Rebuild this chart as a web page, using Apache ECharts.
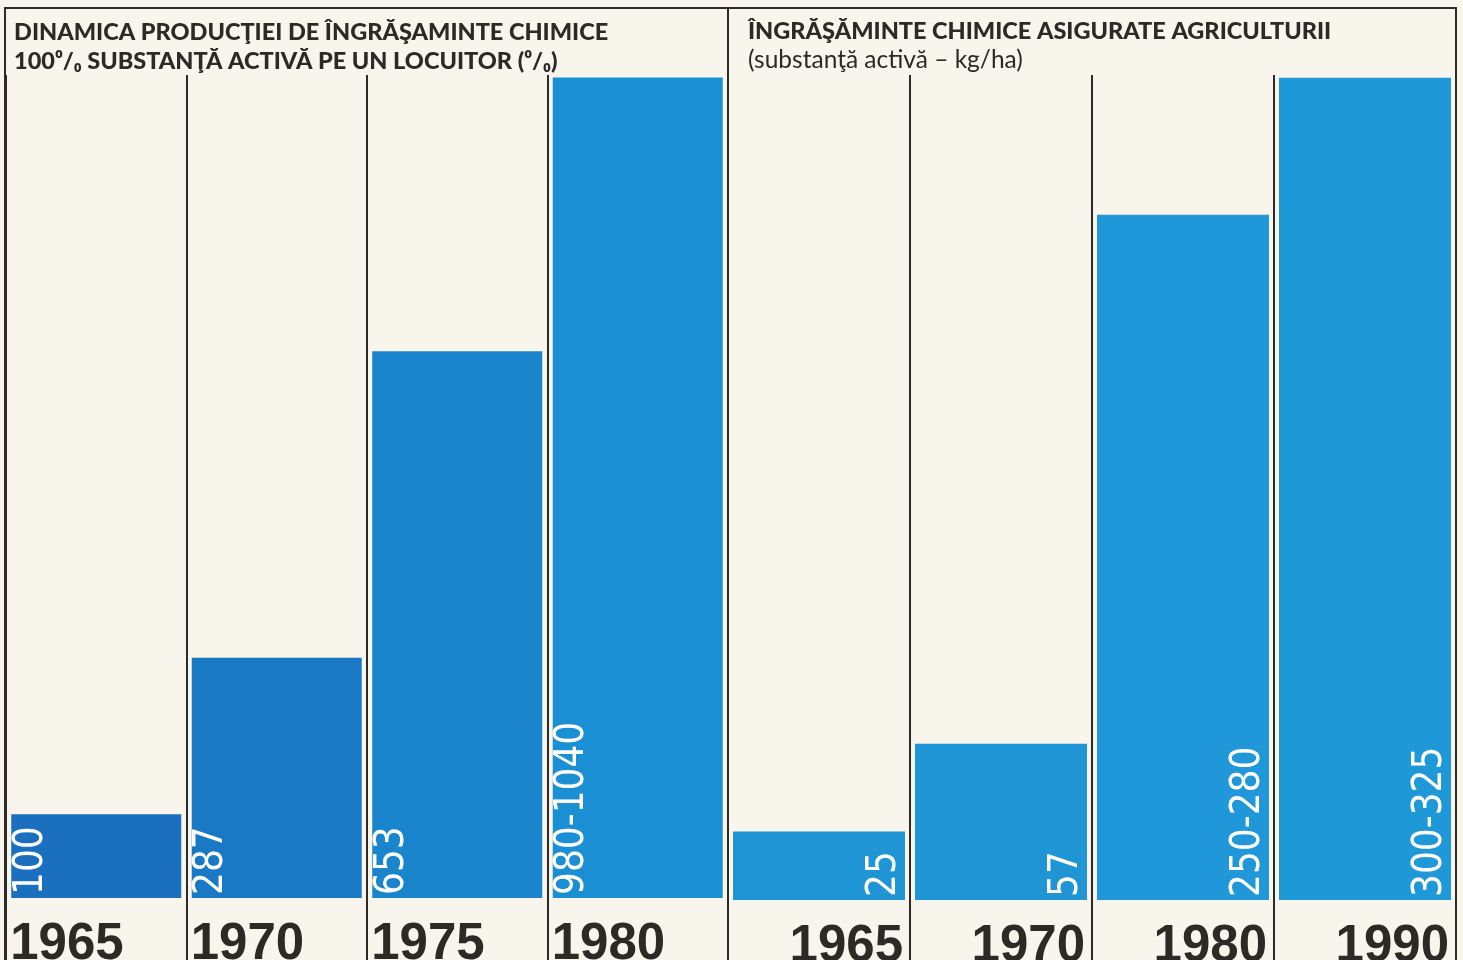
<!DOCTYPE html>
<html>
<head>
<meta charset="utf-8">
<script src="https://cdn.jsdelivr.net/npm/echarts@6/dist/echarts.min.js"></script>
<style>
  html, body { margin: 0; padding: 0; background: #f8f5ed; }
  #main { width: 1463px; height: 960px; }
</style>
</head>
<body>
<div id="main"></div>
<script>
// left panel: production per inhabitant, 1965 = 100
const yearsLeft = ['1965', '1970', '1975', '1980'];
const valuesLeft = [100, 287, 653, 980];
const labelsLeft = ['100', '287', '653', '980-1040'];

// right panel: kg/ha of active substance
const yearsRight = ['1965', '1970', '1980', '1990'];
const valuesRight = [25, 57, 250, 300];
const labelsRight = ['25', '57', '250-280', '300-325'];

const colorsLeft = ['#1a6fbf', '#1979c5', '#1a85cc', '#1b8fd4'];
const colorsRight = ['#2095d6', '#2095d6', '#1f97d8', '#1f98d8'];

const ink = '#2f2a26';
const titleFont = 'Lato, "Open Sans", sans-serif';
const yearFont = '"Liberation Sans", Arial, sans-serif';
const valueFont = '"Liberation Sans Narrow", "DejaVu Sans Condensed", sans-serif';

const myChart = echarts.init(document.getElementById('main'));

function catAxis(gridIndex, data, side) {
  return {
    type: 'category',
    gridIndex: gridIndex,
    data: data,
    axisLine: { show: false },
    axisTick: { show: true, interval: 0, length: 70, lineStyle: { color: ink, width: 2 } },
    splitLine: { show: true, interval: 0, lineStyle: { color: ink, width: 2 } },
    axisLabel: {
      interval: 0,
      margin: 21,
      formatter: v => '{y|' + v + '}',
      rich: {
        y: {
          width: side === 'left' ? 172 : 168,
          align: side,
          fontFamily: yearFont,
          fontWeight: 'bold',
          fontSize: 51,
          color: '#2d2926'
        }
      }
    }
  };
}

const titleStyle = { fontFamily: titleFont, fontWeight: 900, fontSize: 23.5, color: '#2d2926' };

myChart.setOption({
  backgroundColor: '#f8f5ed',
  animation: false,
  title: [
    { text: 'DINAMICA PRODUCŢIEI DE ÎNGRĂŞAMINTE CHIMICE', left: 14, top: 20, padding: 0, textStyle: titleStyle },
    { text: '100⁰/₀ SUBSTANŢĂ ACTIVĂ PE UN LOCUITOR (⁰/₀)', left: 14, top: 49, padding: 0, textStyle: titleStyle },
    { text: 'ÎNGRĂŞĂMINTE CHIMICE ASIGURATE AGRICULTURII', left: 748, top: 19, padding: 0, textStyle: titleStyle },
    {
      text: '(substanţă activă – kg/ha)',
      left: 748, top: 48, padding: 0,
      textStyle: { fontFamily: titleFont, fontWeight: 'normal', fontSize: 24.5, color: '#2d2926' }
    }
  ],
  graphic: [
    { type: 'rect', shape: { x: 5, y: 8, width: 723, height: 980 }, style: { fill: 'none', stroke: ink, lineWidth: 2 } },
    { type: 'rect', shape: { x: 728, y: 8, width: 728, height: 980 }, style: { fill: 'none', stroke: ink, lineWidth: 2 } }
  ],
  grid: [
    { left: 6, width: 722, top: 75, bottom: 62, outerBoundsMode: 'none' },
    { left: 728, width: 728, top: 75, bottom: 60, outerBoundsMode: 'none' }
  ],
  xAxis: [catAxis(0, yearsLeft, 'left'), catAxis(1, yearsRight, 'right')],
  yAxis: [
    { type: 'value', gridIndex: 0, min: 0, max: 983, show: false },
    { type: 'value', gridIndex: 1, min: 0, max: 301, show: false }
  ],
  series: [
    {
      type: 'bar',
      xAxisIndex: 0, yAxisIndex: 0,
      data: valuesLeft,
      barWidth: 170,
      itemStyle: { color: p => colorsLeft[p.dataIndex] },
      label: {
        show: true,
        position: 'insideBottomLeft',
        distance: 3,
        rotate: 90,
        align: 'left',
        verticalAlign: 'top',
        lineHeight: 34,
        formatter: p => labelsLeft[p.dataIndex],
        color: '#ffffff',
        fontFamily: valueFont,
        fontSize: 40
      }
    },
    {
      type: 'bar',
      xAxisIndex: 1, yAxisIndex: 1,
      data: valuesRight,
      barWidth: 172,
      itemStyle: { color: p => colorsRight[p.dataIndex] },
      label: {
        show: true,
        position: 'insideBottomRight',
        distance: 3,
        rotate: 90,
        align: 'left',
        verticalAlign: 'bottom',
        lineHeight: 34,
        formatter: p => labelsRight[p.dataIndex],
        color: '#ffffff',
        fontFamily: valueFont,
        fontSize: 40
      }
    }
  ]
});
</script>
</body>
</html>
